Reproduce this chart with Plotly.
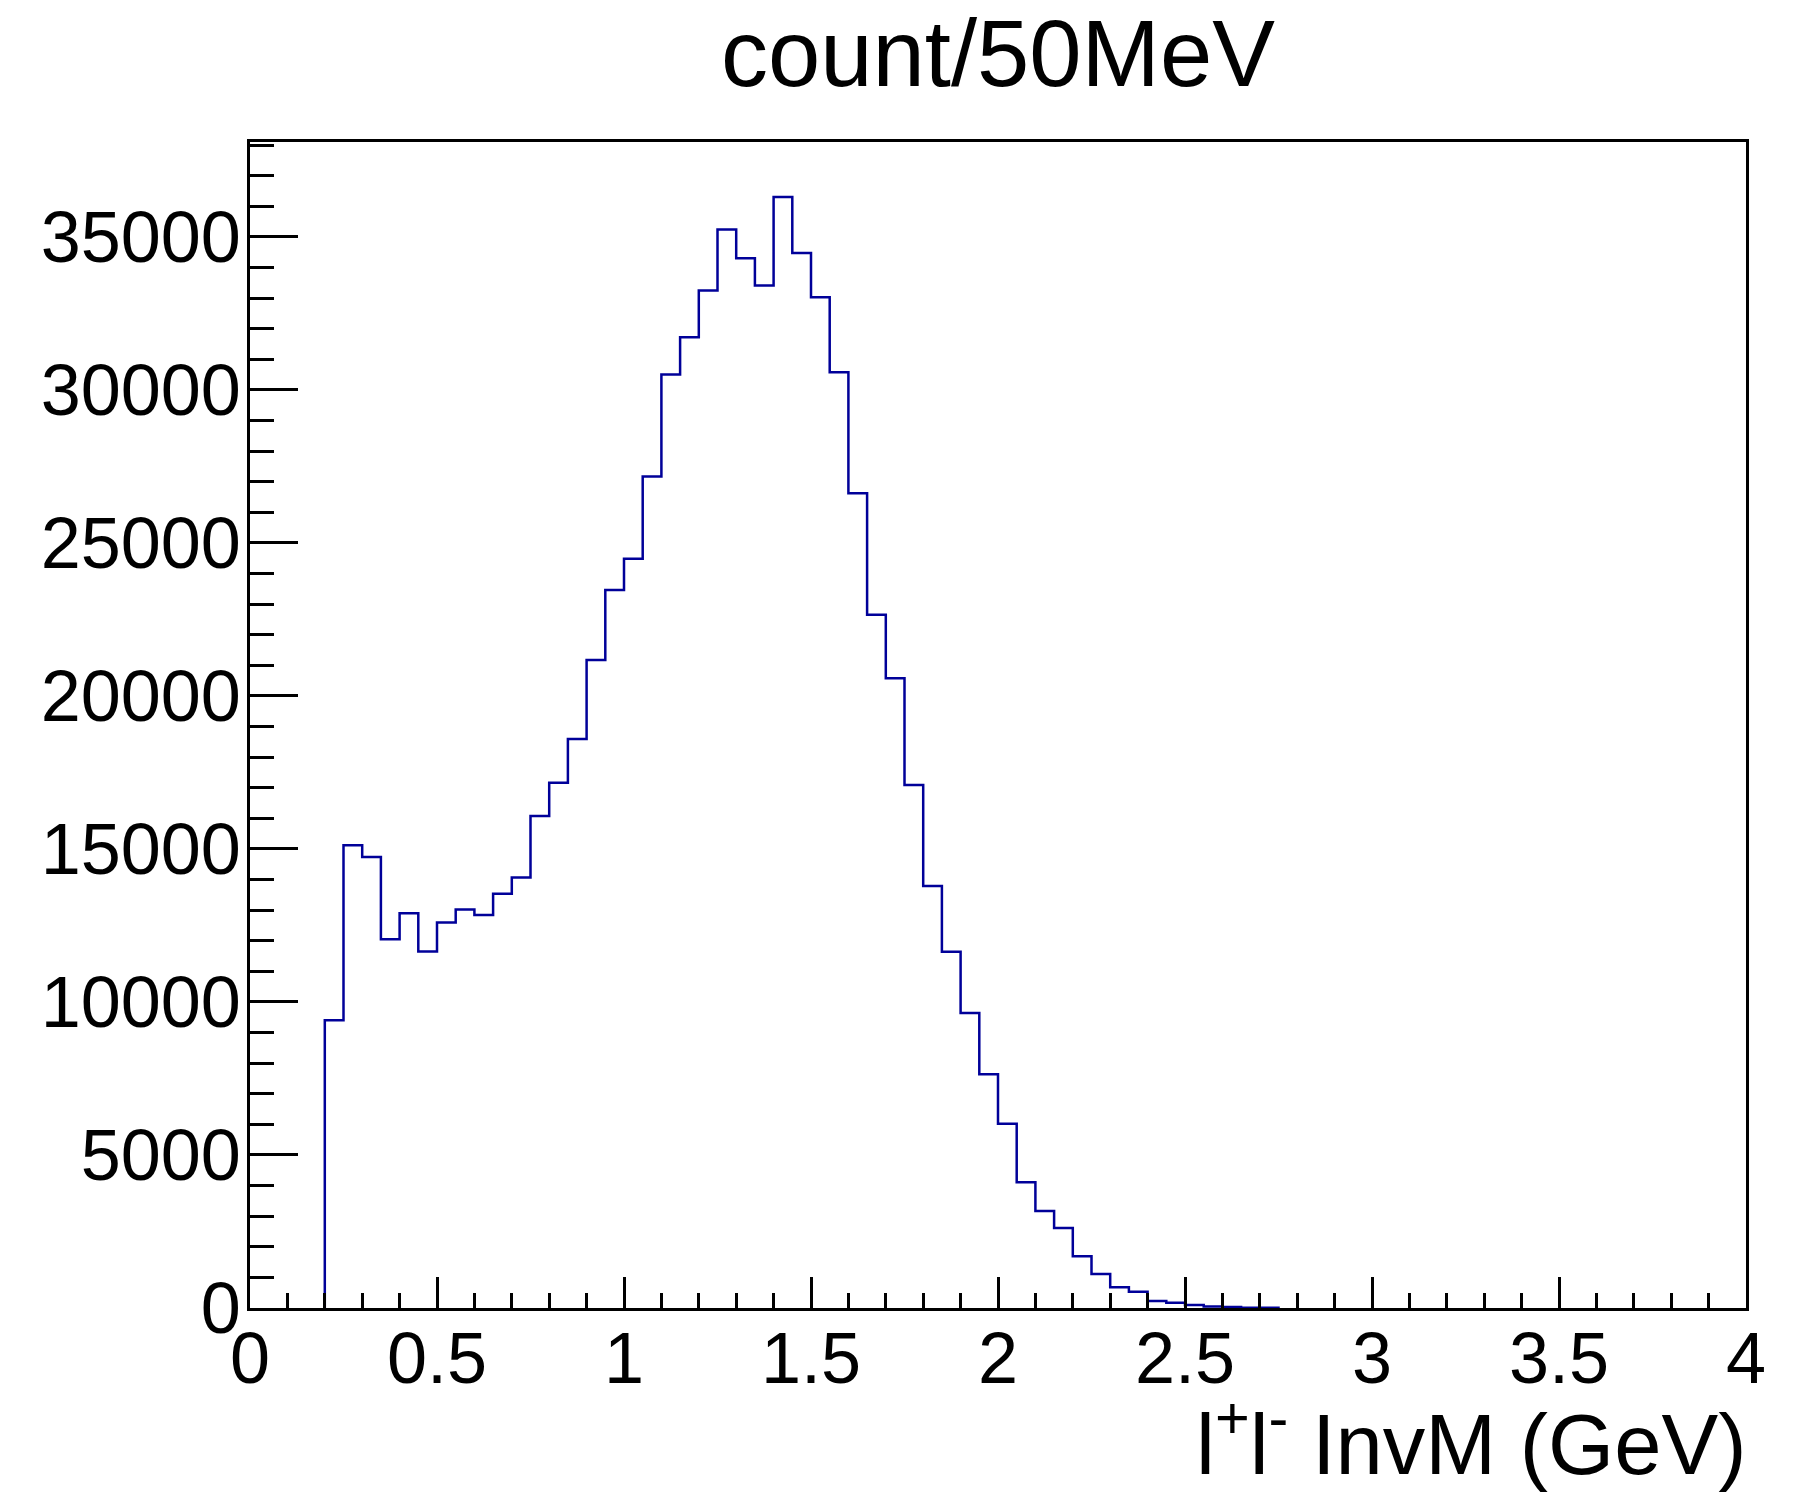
import plotly.graph_objects as go

# Histogram: l+l- invariant mass, 50 MeV bins from 0 to 4 GeV
bin_width = 0.05
n_bins = 80
counts = [
    0, 0, 0, 0,
    9400, 15120, 14740, 12050, 12900, 11650, 12600, 13020, 12840, 13540,
    14070, 16080, 17160, 18590, 21170, 23460, 24480, 27170, 30500, 31720,
    33250, 35240, 34300, 33410, 36300, 34470, 33030, 30580, 26620, 22650,
    20580, 17090, 13790, 11640, 9640, 7640, 6020, 4110, 3170, 2610,
    1690, 1110, 680, 530, 230, 175, 95, 45, 30, 10, 5,
    0, 0, 0, 0, 0, 0, 0, 0, 0, 0, 0, 0, 0, 0, 0, 0, 0, 0, 0, 0, 0, 0, 0, 0, 0,
]
x_ticks = [0, 0.5, 1, 1.5, 2, 2.5, 3, 3.5, 4]
x_tick_labels = ["0", "0.5", "1", "1.5", "2", "2.5", "3", "3.5", "4"]
y_ticks = [0, 5000, 10000, 15000, 20000, 25000, 30000, 35000]
y_tick_labels = ["0", "5000", "10000", "15000", "20000", "25000", "30000", "35000"]
title_text = "count/50MeV"
x_title = "l<sup>+</sup>l<sup>-</sup> InvM (GeV)"

edges = [round(i * bin_width, 4) for i in range(n_bins + 1)]
# outline only over the filled range (zero bins lie under the black axis line)
nonzero = [i for i, c in enumerate(counts) if c > 0]
first, last = nonzero[0], nonzero[-1]
x_step = [edges[first]] + edges[first:last + 2]
y_step = [0] + counts[first:last + 1] + [0]

FONT = "Liberation Sans, Arial, Helvetica, sans-serif"

fig = go.Figure()
fig.add_trace(go.Scatter(
    x=x_step, y=y_step, mode="lines",
    line=dict(shape="hv", color="#000099", width=2.5),
    showlegend=False, hoverinfo="skip",
))

fig.update_layout(
    width=1793, height=1499,
    margin=dict(l=250, r=47, t=142, b=191),
    paper_bgcolor="white", plot_bgcolor="white",
    font=dict(family=FONT, color="black"),
    showlegend=False,
)

fig.update_xaxes(
    range=[0, 4], showgrid=False, zeroline=False,
    showline=True, linecolor="black", linewidth=2.5, mirror=True,
    ticks="inside", ticklen=31, tickwidth=2.5, tickcolor="black",
    tickvals=x_ticks, ticktext=x_tick_labels,
    tickfont=dict(size=72, family=FONT, color="black"),
    ticklabelstandoff=-14,
    minor=dict(dtick=0.1, ticks="inside", ticklen=15, tickwidth=2.5, tickcolor="black"),
)
fig.update_yaxes(
    range=[0, 38100], showgrid=False, zeroline=False,
    showline=True, linecolor="black", linewidth=2.5, mirror=True,
    ticks="inside", ticklen=48, tickwidth=2.5, tickcolor="black",
    tickvals=y_ticks, ticktext=y_tick_labels,
    tickfont=dict(size=72, family=FONT, color="black"),
    ticklabelstandoff=-8,
    minor=dict(dtick=1000, ticks="inside", ticklen=24, tickwidth=2.5, tickcolor="black"),
)

fig.add_annotation(
    text=title_text, xref="paper", yref="paper", x=0.5, y=1,
    xanchor="center", yanchor="bottom", yshift=34, showarrow=False,
    font=dict(size=94, family=FONT, color="black"),
)
fig.add_annotation(
    text=x_title, xref="paper", yref="paper", x=1, y=0,
    xanchor="right", yanchor="top", yshift=-74, xshift=2, showarrow=False,
    font=dict(size=85, family=FONT, color="black"),
)

fig.write_html("out.html")
